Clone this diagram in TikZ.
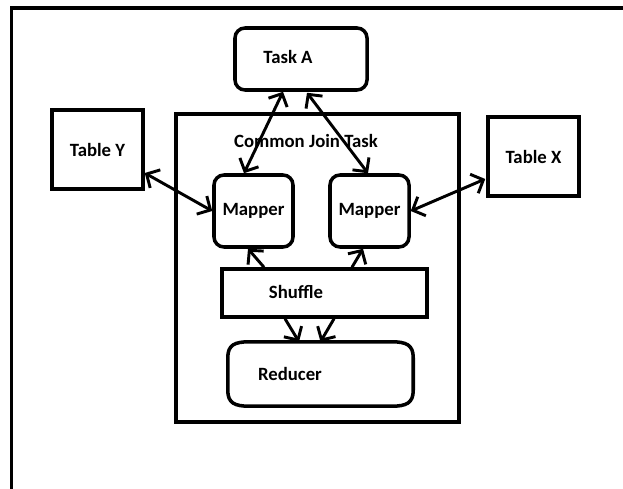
\documentclass[tikz,border=0pt]{standalone}
\usepackage{fontspec}
\setmainfont{Carlito}
\usetikzlibrary{
    arrows.meta,
    calc,
    positioning
}
\tikzset{
    boxline/.style={draw=black, line width=3pt},
    lbl/.style={inner sep=0pt, font=\fontsize{16}{19}\selectfont\bfseries},
    tblbox/.style={boxline, rectangle, minimum width=2.73cm, minimum height=2.37cm, font=\fontsize{16}{19}\selectfont\bfseries},
    mapbox/.style={boxline, rectangle, rounded corners=0.3cm, minimum width=2.37cm, minimum height=2.16cm, font=\fontsize{16}{19}\selectfont\bfseries},
    barb/.tip={Straight Barb[length=0.3cm, width=0.62cm]},
    dbl/.style={line width=2.5pt, barb-barb},
    sgl/.style={line width=2.5pt, -barb}
}

\begin{document}
\begin{tikzpicture}[x=0.03cm, y=-0.03cm]
    \useasboundingbox (0,0) rectangle (623,489);
    % frame
    \draw[boxline] (623,8) -- (11.5,8) -- (11.5,489);
    % join task
    \node[boxline, rectangle, minimum width=8.49cm, minimum height=9.24cm] (common) at (317.5,268) {};
    \node[lbl] (commonT) at (306,141) {Common Join Task};
    \node[boxline, rectangle, rounded corners=0.3cm, minimum width=3.96cm, minimum height=1.86cm] (taska) at (301,59) {};
    \node[lbl] (taskaT) at (288,57) {Task A};
    \node[tblbox] (tabley) at (97.5,149.5) {Table Y};
    \node[tblbox] (tablex) at (533.5,156.5) {Table X};
    \node[mapbox] (mapl) at (253.5,211) {Mapper};
    \node[mapbox] (mapr) at (369.5,211) {Mapper};
    \node[boxline, rectangle, minimum width=6.15cm, minimum height=1.44cm] (shuffle) at (324.5,293) {};
    \node[lbl] (shuffleT) at (296,292) {Shuffle};
    \node[rectangle, minimum width=5.55cm, minimum height=1.92cm] (reducer) at (320.5,374) {};
    \draw[boxline] ($(reducer.north west)+(0,16)$)
        .. controls ($(reducer.north west)+(0,3)$) and ($(reducer.north west)+(7,0)$) .. ($(reducer.north west)+(22,0)$)
        -- ($(reducer.north east)+(-22,0)$)
        .. controls ($(reducer.north east)+(-7,0)$) and ($(reducer.north east)+(0,3)$) .. ($(reducer.north east)+(0,16)$)
        -- ($(reducer.south east)+(0,-16)$)
        .. controls ($(reducer.south east)+(0,-3)$) and ($(reducer.south east)+(-7,0)$) .. ($(reducer.south east)+(-22,0)$)
        -- ($(reducer.south west)+(22,0)$)
        .. controls ($(reducer.south west)+(7,0)$) and ($(reducer.south west)+(0,-3)$) .. ($(reducer.south west)+(0,-16)$)
        -- cycle;
    \node[lbl] (reducerT) at (290,374) {Reducer};
    % connectors
    \draw[dbl] ($(taska.south)+(-18,0)$) -- ($(mapl.north)+(-9.5,0)$);
    \draw[dbl] ($(taska.south)+(6,1)$) -- ($(mapr.north)+(-1.5,0)$);
    \draw[dbl] ($(tabley.east)+(0,23.5)$) -- (mapl.west);
    \draw[dbl] (mapr.east) -- ($(tablex.west)+(-1,22.5)$);
    \draw[sgl] ($(shuffle.north)+(-60.5,0)$) -- ($(mapl.south)+(-5.5,0)$);
    \draw[sgl] ($(shuffle.north)+(27.5,0)$) -- ($(mapr.south)+(-6.5,0)$);
    \draw[sgl] ($(shuffle.south)+(-39.5,0)$) -- ($(reducer.north)+(-21.5,0)$);
    \draw[sgl] ($(shuffle.south)+(9.5,0)$) -- (reducer.north);
\end{tikzpicture}
\end{document}
